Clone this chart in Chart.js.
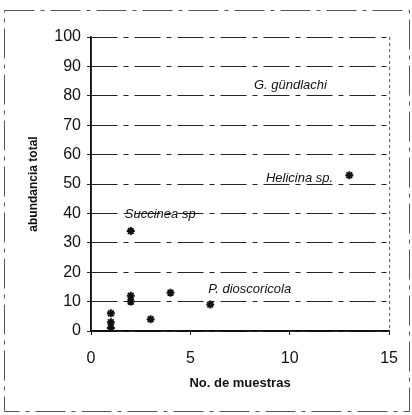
<!DOCTYPE html>
<html>
<head>
<meta charset="utf-8">
<script src="https://cdn.jsdelivr.net/npm/chart.js@4/dist/chart.umd.min.js"></script>
<style>
  html, body { margin: 0; padding: 0; background: #fff; }
  #wrap { width: 412px; height: 415px; }
</style>
</head>
<body>
<div id="wrap"><canvas id="grafico" width="412" height="415"></canvas></div>
<script>
// muestras y abundancia
const muestras = [1, 1, 1, 2, 2, 2, 3, 4, 6, 13];
const abundancia = [6, 3, 1, 12, 10, 34, 4, 13, 9, 53];

// nombres de especies y donde van (en unidades de los ejes)
const especies = ['G. gündlachi', 'Helicina sp.', 'Succinea sp', 'P. dioscoricola'];
const especieX = [8.2, 8.8, 1.7, 5.9];
const especieY = [83.7, 52, 39.5, 14.3];

const ticksX = [0, 5, 10, 15];
const ticksY = [0, 10, 20, 30, 40, 50, 60, 70, 80, 90, 100];

// marco exterior, borde derecho punteado y nombres en cursiva
const extras = {
    id: 'extras',
    afterDraw(chart) {
        const ctx = chart.ctx;
        const area = chart.chartArea;
        ctx.save();
        ctx.strokeStyle = '#555';
        ctx.lineWidth = 1;
        ctx.setLineDash([30, 6, 4, 6]);
        ctx.strokeRect(4.5, 10.5, 405, 401);
        ctx.setLineDash([3, 3]);
        ctx.beginPath();
        ctx.moveTo(area.right + 0.5, area.top);
        ctx.lineTo(area.right + 0.5, area.bottom);
        ctx.stroke();
        ctx.setLineDash([]);
        // eje y solido encima de la cuadricula
        ctx.strokeStyle = '#111';
        ctx.lineWidth = 1.5;
        ctx.beginPath();
        ctx.moveTo(area.left, area.top);
        ctx.lineTo(area.left, area.bottom);
        ctx.lineTo(area.right, area.bottom);
        ctx.stroke();

        const sx = chart.scales.x, sy = chart.scales.y;
        ctx.fillStyle = '#111';
        ctx.font = 'italic 13px "Liberation Sans", Arial, sans-serif';
        ctx.textBaseline = 'middle';
        ctx.textAlign = 'left';
        especies.forEach((nombre, i) => {
            ctx.fillText(nombre, sx.getPixelForValue(especieX[i]), sy.getPixelForValue(especieY[i]));
        });
        ctx.restore();
    }
};

const ctx = document.getElementById('grafico').getContext('2d');
const grafico = new Chart(ctx, {
    type: 'scatter',
    data: {
        datasets: [{
            data: muestras.map((m, i) => ({ x: m, y: abundancia[i] })),
            pointStyle: 'star',
            radius: 4,
            borderWidth: 2,
            borderColor: '#111',
            backgroundColor: '#111'
        }]
    },
    options: {
        responsive: false,
        animation: false,
        layout: { padding: { top: 37, right: 19, left: 0, bottom: 0 } },
        plugins: { legend: { display: false }, tooltip: { enabled: false } },
        scales: {
            x: {
                type: 'linear',
                min: 0,
                max: 15,
                afterBuildTicks: s => { s.ticks = ticksX.map(v => ({ value: v })); },
                afterFit: s => { s.height = 84; },
                ticks: {
                    color: '#111',
                    padding: 14,
                    font: { family: '"Liberation Sans", Arial, sans-serif', size: 16 }
                },
                grid: { drawOnChartArea: false, tickLength: 4, color: '#111' },
                border: { color: '#111', width: 1.5 },
                title: {
                    display: true,
                    text: 'No. de muestras',
                    color: '#111',
                    padding: { top: 0, bottom: 24 },
                    font: { family: '"Liberation Sans", Arial, sans-serif', size: 13, weight: 'bold' }
                }
            },
            y: {
                min: 0,
                max: 100,
                afterBuildTicks: s => { s.ticks = ticksY.map(v => ({ value: v })); },
                afterFit: s => { s.width = 91; },
                ticks: {
                    color: '#111',
                    padding: 6,
                    font: { family: '"Liberation Sans", Arial, sans-serif', size: 16 }
                },
                grid: {
                    color: '#222',
                    lineWidth: 1,
                    tickLength: 4,
                    tickBorderDash: [1, 0]
                },
                border: { color: '#111', width: 1.5, dash: [26, 6, 5, 6] },
                title: {
                    display: true,
                    text: 'abundancia total',
                    color: '#111',
                    padding: { top: 26, bottom: 0 },
                    font: { family: '"Liberation Sans", Arial, sans-serif', size: 12, weight: 'bold' }
                }
            }
        }
    },
    plugins: [extras]
});
</script>
</body>
</html>
